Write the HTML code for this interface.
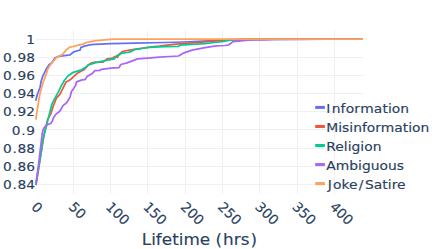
<!DOCTYPE html><html><head><meta charset="utf-8"><title>chart</title><style>html,body{margin:0;padding:0;background:#fff;overflow:hidden}</style></head><body><svg width="436" height="249" viewBox="0 0 436 249" style="display:block">
<rect width="436" height="249" fill="#fff"/>
<line x1="73.50" x2="73.50" y1="30.5" y2="194.4" stroke="#f0f0f0" stroke-width="1"/>
<line x1="110.50" x2="110.50" y1="30.5" y2="194.4" stroke="#f0f0f0" stroke-width="1"/>
<line x1="147.50" x2="147.50" y1="30.5" y2="194.4" stroke="#f0f0f0" stroke-width="1"/>
<line x1="185.50" x2="185.50" y1="30.5" y2="194.4" stroke="#f0f0f0" stroke-width="1"/>
<line x1="222.50" x2="222.50" y1="30.5" y2="194.4" stroke="#f0f0f0" stroke-width="1"/>
<line x1="259.50" x2="259.50" y1="30.5" y2="194.4" stroke="#f0f0f0" stroke-width="1"/>
<line x1="297.50" x2="297.50" y1="30.5" y2="194.4" stroke="#f0f0f0" stroke-width="1"/>
<line x1="334.50" x2="334.50" y1="30.5" y2="194.4" stroke="#f0f0f0" stroke-width="1"/>
<line x1="36" x2="363" y1="39.50" y2="39.50" stroke="#f0f0f0" stroke-width="1"/>
<line x1="36" x2="363" y1="57.50" y2="57.50" stroke="#f0f0f0" stroke-width="1"/>
<line x1="36" x2="363" y1="75.50" y2="75.50" stroke="#f0f0f0" stroke-width="1"/>
<line x1="36" x2="363" y1="93.50" y2="93.50" stroke="#f0f0f0" stroke-width="1"/>
<line x1="36" x2="363" y1="111.50" y2="111.50" stroke="#f0f0f0" stroke-width="1"/>
<line x1="36" x2="363" y1="129.50" y2="129.50" stroke="#f0f0f0" stroke-width="1"/>
<line x1="36" x2="363" y1="148.50" y2="148.50" stroke="#f0f0f0" stroke-width="1"/>
<line x1="36" x2="363" y1="166.50" y2="166.50" stroke="#f0f0f0" stroke-width="1"/>
<line x1="36" x2="363" y1="184.50" y2="184.50" stroke="#f0f0f0" stroke-width="1"/>
<clipPath id="c"><rect x="35" y="30.5" width="328" height="163.9"/></clipPath>
<g clip-path="url(#c)" fill="none" stroke-width="1.75" stroke-linejoin="round">
<polyline points="35.8,100.8 37.2,94.7 38.8,90.7 40.0,87.5 41.2,81.1 42.8,76.2 45.2,71.4 46.1,69.3 49.3,64.5 51.7,62.9 54.9,58.1 58.1,56.5 62.1,56.0 66.1,55.4 70.1,54.9 73.3,52.2 78.2,50.5 80.1,50.1 81.0,47.3 84.6,46.1 89.4,44.8 94.2,44.4 100.0,44.1 111.0,43.6 135.0,43.2 165.0,42.5 184.0,42.0 208.0,40.9 230.0,39.9 260.0,39.7 300.0,39.5 326.0,39.1 363.0,39.1" stroke="#636efa"/>
<polyline points="35.9,185.0 43.2,140.0 44.4,132.9 46.1,126.5 47.7,119.3 50.9,113.6 53.3,106.0 55.7,100.0 56.5,97.9 59.7,94.7 62.9,88.3 66.1,81.9 70.1,79.8 74.1,76.2 78.2,72.7 83.8,69.8 87.0,66.6 88.1,65.0 92.0,62.8 95.0,62.1 103.0,62.1 107.0,58.9 112.7,58.1 115.1,56.5 117.5,57.3 119.1,54.1 122.3,51.7 127.1,50.5 132.7,49.6 141.5,48.3 149.6,47.0 159.2,46.1 165.0,45.4 176.0,44.1 192.0,42.8 208.0,41.7 230.0,39.7 245.0,39.2 363.0,39.1" stroke="#EF553B"/>
<polyline points="35.9,185.0 42.0,146.9 42.8,140.0 44.4,133.7 46.9,124.1 49.3,114.4 51.7,104.6 54.1,99.7 58.1,92.3 61.3,85.9 64.5,80.2 67.7,76.2 72.5,72.7 76.5,71.4 81.4,69.8 85.4,67.4 88.6,65.0 95.0,62.9 101.4,61.3 107.8,60.2 114.3,58.9 116.7,55.7 119.1,54.9 121.5,53.3 127.1,52.5 131.1,51.7 134.3,49.6 141.5,48.5 149.6,47.3 159.2,46.9 165.0,46.6 178.5,46.4 180.0,45.2 192.0,44.4 205.0,43.6 214.6,42.5 224.0,41.4 231.4,40.0 241.0,39.6 255.0,39.2 363.0,39.1" stroke="#00cc96"/>
<polyline points="35.9,184.3 38.7,163.0 41.4,140.5 42.3,132.8 43.7,128.2 46.4,125.1 51.0,123.2 52.5,120.8 53.4,117.7 55.7,114.4 59.7,111.2 61.3,108.8 62.9,105.6 66.1,103.2 67.7,101.1 70.1,97.1 71.4,91.5 73.3,89.1 75.7,85.1 76.5,81.9 81.4,80.2 85.4,79.4 87.0,76.6 91.8,73.8 95.0,70.6 100.0,70.3 101.4,69.3 111.1,68.2 119.1,67.7 120.7,64.5 127.1,62.9 137.5,58.9 148.0,58.1 159.2,57.2 169.6,56.5 178.5,56.0 184.0,52.8 192.0,50.1 205.0,47.7 216.0,45.9 225.0,45.5 228.5,45.0 233.0,41.6 241.0,40.9 250.7,40.0 265.0,39.6 273.0,39.2 363.0,39.1" stroke="#ab63fa"/>
<polyline points="35.8,119.6 38.0,105.0 39.6,95.5 41.2,89.1 43.6,81.1 46.1,74.6 47.7,69.3 49.3,66.5 52.5,62.1 56.5,57.6 59.7,55.7 62.9,54.1 66.1,50.1 69.3,47.3 73.3,46.5 78.2,45.2 83.0,44.1 86.2,42.5 91.0,41.6 95.8,40.6 100.0,40.3 104.6,39.9 114.3,39.1 363.0,39.1" stroke="#FFA15A"/>
</g>
<g font-family="'DejaVu Sans', Verdana, sans-serif" fill="#2a3f5f" stroke="#2a3f5f" stroke-width="0.15">
<text transform="translate(35.0,43.95) scale(1.072,1)" font-size="12.8px" text-anchor="end">1</text>
<text transform="translate(35.0,62.08) scale(1.072,1)" font-size="12.8px" text-anchor="end">0<tspan dx="0.7">.</tspan><tspan dx="0.7">98</tspan></text>
<text transform="translate(35.0,80.20) scale(1.072,1)" font-size="12.8px" text-anchor="end">0<tspan dx="0.7">.</tspan><tspan dx="0.7">96</tspan></text>
<text transform="translate(35.0,98.33) scale(1.072,1)" font-size="12.8px" text-anchor="end">0<tspan dx="0.7">.</tspan><tspan dx="0.7">94</tspan></text>
<text transform="translate(35.0,116.45) scale(1.072,1)" font-size="12.8px" text-anchor="end">0<tspan dx="0.7">.</tspan><tspan dx="0.7">92</tspan></text>
<text transform="translate(35.0,134.57) scale(1.072,1)" font-size="12.8px" text-anchor="end">0<tspan dx="0.7">.</tspan><tspan dx="0.7">9</tspan></text>
<text transform="translate(35.0,152.70) scale(1.072,1)" font-size="12.8px" text-anchor="end">0<tspan dx="0.7">.</tspan><tspan dx="0.7">88</tspan></text>
<text transform="translate(35.0,170.83) scale(1.072,1)" font-size="12.8px" text-anchor="end">0<tspan dx="0.7">.</tspan><tspan dx="0.7">86</tspan></text>
<text transform="translate(35.0,188.95) scale(1.072,1)" font-size="12.8px" text-anchor="end">0<tspan dx="0.7">.</tspan><tspan dx="0.7">84</tspan></text>
<text transform="translate(30.50,207.70) scale(1.03,1) rotate(45)" font-size="13.4px" text-anchor="start">0</text>
<text transform="translate(67.80,207.70) scale(1.03,1) rotate(45)" font-size="13.4px" text-anchor="start">50</text>
<text transform="translate(105.10,207.70) scale(1.03,1) rotate(45)" font-size="13.4px" text-anchor="start">100</text>
<text transform="translate(142.40,207.70) scale(1.03,1) rotate(45)" font-size="13.4px" text-anchor="start">150</text>
<text transform="translate(179.70,207.70) scale(1.03,1) rotate(45)" font-size="13.4px" text-anchor="start">200</text>
<text transform="translate(217.00,207.70) scale(1.03,1) rotate(45)" font-size="13.4px" text-anchor="start">250</text>
<text transform="translate(254.30,207.70) scale(1.03,1) rotate(45)" font-size="13.4px" text-anchor="start">300</text>
<text transform="translate(291.60,207.70) scale(1.03,1) rotate(45)" font-size="13.4px" text-anchor="start">350</text>
<text transform="translate(328.90,207.70) scale(1.03,1) rotate(45)" font-size="13.4px" text-anchor="start">400</text>
<text transform="translate(199.4,245.3) scale(1.06,1)" font-size="15.9px" text-anchor="middle">Lifetime (<tspan dx="0.9">hrs</tspan><tspan dx="0.9">)</tspan></text>
<line x1="315.2" x2="324.9" y1="107.40" y2="107.40" stroke="#636efa" stroke-width="3"/>
<text transform="translate(326.3,112.80) scale(1.1,1)" font-size="12.6px">I<tspan dx="1.2">nf</tspan><tspan dx="0.3">or</tspan><tspan dx="0.3">ma</tspan><tspan dx="0.3">tion</tspan></text>
<line x1="315.2" x2="324.9" y1="126.45" y2="126.45" stroke="#EF553B" stroke-width="3"/>
<text transform="translate(326.3,131.85) scale(1.1,1)" font-size="12.6px">Misinformation</text>
<line x1="315.2" x2="324.9" y1="145.50" y2="145.50" stroke="#00cc96" stroke-width="3"/>
<text transform="translate(326.3,150.90) scale(1.1,1)" font-size="12.6px">Religion</text>
<line x1="315.2" x2="324.9" y1="164.55" y2="164.55" stroke="#ab63fa" stroke-width="3"/>
<text transform="translate(326.3,169.95) scale(1.1,1)" font-size="12.6px">Ambiguous</text>
<line x1="315.2" x2="324.9" y1="183.60" y2="183.60" stroke="#FFA15A" stroke-width="3"/>
<text transform="translate(326.3,189.00) scale(1.1,1)" font-size="12.6px"><tspan dx="1.3">J</tspan><tspan dx="1.1">oke</tspan><tspan dx="1.1">/</tspan><tspan dx="1.5">Satire</tspan></text>
</g>
</svg></body></html>
